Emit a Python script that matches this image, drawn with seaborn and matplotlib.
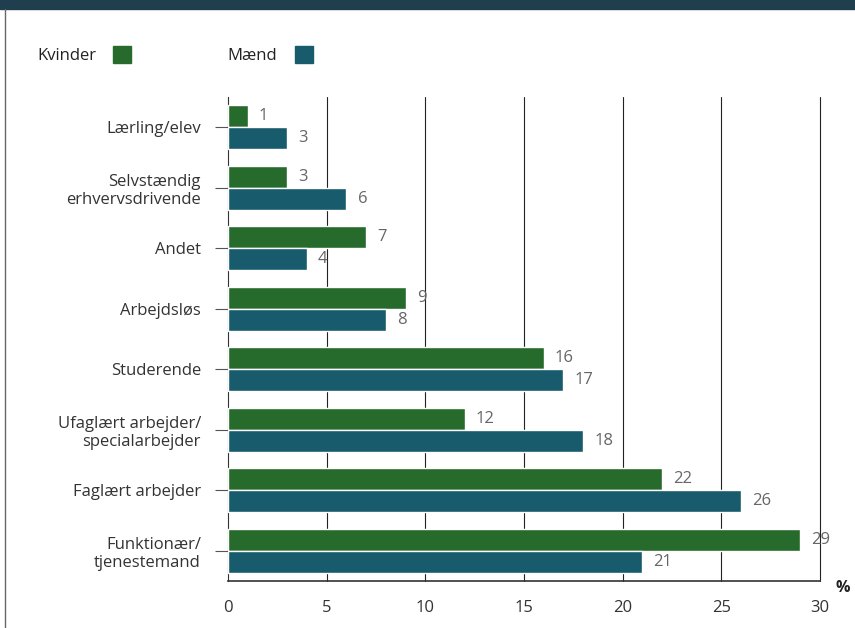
import numpy as np
import pandas as pd
import matplotlib.pyplot as plt
from matplotlib.patches import Rectangle
from matplotlib.lines import Line2D
import seaborn as sns

sns.set_style("white")
plt.rcParams['font.family'] = ['Open Sans', 'DejaVu Sans']

# Data
categories = ["Lærling/elev", "Selvstændig\nerhvervsdrivende", "Andet", "Arbejdsløs",
              "Studerende", "Ufaglært arbejder/\nspecialarbejder", "Faglært arbejder",
              "Funktionær/\ntjenestemand"]
kvinder = [1, 3, 7, 9, 16, 12, 22, 29]
maend = [3, 6, 4, 8, 17, 18, 26, 21]
groups = ["Kvinder", "Mænd"]
colors = ["#276b2c", "#175b6c"]

df = pd.DataFrame({
    "Kategori": categories * 2,
    "Andel": kvinder + maend,
    "Køn": [groups[0]] * len(categories) + [groups[1]] * len(categories),
})

fig = plt.figure(figsize=(8.55, 6.28), dpi=100)
ax = fig.add_axes([0.2667, 0.0748, 0.6924, 0.7707])

sns.barplot(data=df, y="Kategori", x="Andel", hue="Køn", orient="h",
            palette=colors, saturation=1, width=0.72, edgecolor="white", linewidth=1,
            ax=ax, legend=False, zorder=3)

for cont in ax.containers:
    ax.bar_label(cont, padding=8, color="#666666", fontsize=12)

ax.set_xlim(0, 30)
ax.set_ylim(7.5, -0.5)
ax.set_xticks(np.arange(0, 31, 5))
ax.set_xlabel("")
ax.set_ylabel("")
ax.xaxis.grid(False)
ax.yaxis.grid(False)
for xv in np.arange(5, 31, 5):
    ax.axvline(xv, color="#222222", linewidth=0.8, zorder=0, clip_on=False)
for s in ["top", "right"]:
    ax.spines[s].set_visible(False)
ax.spines["left"].set_color("#333333")
ax.spines["left"].set_zorder(1)
ax.spines["bottom"].set_color("#333333")
ax.spines["bottom"].set_linewidth(1.2)
ax.tick_params(axis="x", direction="in", length=8, width=0.8, color="#555555",
               pad=14, labelsize=12, labelcolor="#333333")
ax.tick_params(axis="y", direction="out", length=9.5, width=0.8, color="#555555",
               pad=10, labelsize=12, labelcolor="#333333", left=True)

fig.text(0.986, 0.063, "%", fontsize=11.5, fontweight="bold", color="#222222",
         ha="center", va="center")

# header band and left frame line
fig.patches.append(Rectangle((0, 0.986), 1, 0.014, transform=fig.transFigure,
                             color="#1f3e4e", zorder=0))
fig.lines.append(Line2D([0.006, 0.006], [0, 0.986], transform=fig.transFigure,
                        color="#666666", linewidth=1))

# legend
fig.text(0.044, 0.911, "Kvinder", fontsize=12, color="#222222", va="center")
fig.patches.append(Rectangle((0.132, 0.899), 0.021, 0.027, transform=fig.transFigure,
                             color=colors[0]))
fig.text(0.266, 0.911, "Mænd", fontsize=12, color="#222222", va="center")
fig.patches.append(Rectangle((0.345, 0.899), 0.021, 0.027, transform=fig.transFigure,
                             color=colors[1]))

fig.savefig("out.png", dpi=100)
